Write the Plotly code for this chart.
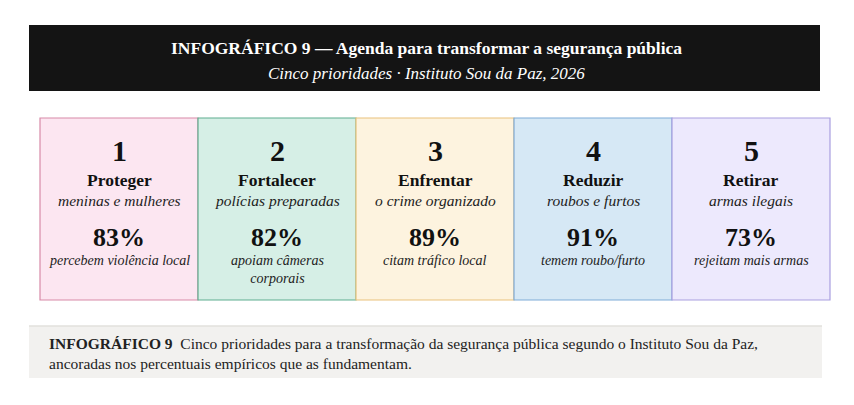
import plotly.graph_objects as go

# Data
ranks = ["1", "2", "3", "4", "5"]
verbs = ["Proteger", "Fortalecer", "Enfrentar", "Reduzir", "Retirar"]
objects = ["meninas e mulheres", "polícias preparadas", "o crime organizado",
           "roubos e furtos", "armas ilegais"]
percents = [83, 82, 89, 91, 73]
notes = ["percebem violência local", "apoiam câmeras<br>corporais",
         "citam tráfico local", "temem roubo/furto", "rejeitam mais armas"]

fills = ["#fce6f1", "#d6efe6", "#fdf3df", "#d6e8f5", "#ede9fd"]
borders = ["#d88aa8", "#5fae8f", "#e9c27c", "#7fabd8", "#a99fe0"]

title = "INFOGRÁFICO 9 — Agenda para transformar a segurança pública"
subtitle = "Cinco prioridades · Instituto Sou da Paz, 2026"
caption_head = "INFOGRÁFICO 9"
caption_body = ("Cinco prioridades para a transformação da segurança pública segundo o Instituto Sou da Paz,"
                "<br>ancoradas nos percentuais empíricos que as fundamentam.")

FONT = "Liberation Serif, Times New Roman, serif"
W, H = 854, 405
OFF = 8  # page body margin

fig = go.Figure()
shapes = []
ann = []

# Header banner
shapes.append(dict(type="rect", x0=29, x1=820, y0=25, y1=91,
                   fillcolor="#141414", line=dict(width=0), layer="below"))
ann.append(dict(x=426, y=48, text="<b>" + title + "</b>", showarrow=False,
                font=dict(family=FONT, size=17.5, color="white")))
ann.append(dict(x=426, y=73, text="<i>" + subtitle + "</i>", showarrow=False,
                font=dict(family=FONT, size=17, color="white")))

# Cards
x_left, card_w = 40, 158
top, bottom = 118, 300
for i in range(len(ranks)):
    x0 = x_left + i * card_w
    cx = x0 + card_w / 2
    shapes.append(dict(type="rect", x0=x0, x1=x0 + card_w, y0=top, y1=bottom,
                       fillcolor=fills[i], line=dict(color=borders[i], width=1.2),
                       layer="below"))
    ann.append(dict(x=cx, y=150, text="<b>" + ranks[i] + "</b>", showarrow=False,
                    font=dict(family=FONT, size=30, color="#111")))
    ann.append(dict(x=cx, y=180, text="<b>" + verbs[i] + "</b>", showarrow=False,
                    font=dict(family=FONT, size=17.5, color="#111")))
    ann.append(dict(x=cx, y=200, text="<i>" + objects[i] + "</i>", showarrow=False,
                    font=dict(family=FONT, size=15.5, color="#222")))
    ann.append(dict(x=cx, y=237, text="<b>%d%%</b>" % percents[i], showarrow=False,
                    font=dict(family=FONT, size=26, color="#111")))
    two = "<br>" in notes[i]
    ann.append(dict(x=cx, y=251 if two else 260, text="<i>" + notes[i] + "</i>",
                    showarrow=False, yanchor="top" if two else "middle",
                    font=dict(family=FONT, size=14, color="#222")))

# Caption box
shapes.append(dict(type="rect", x0=29, x1=822, y0=326, y1=378,
                   fillcolor="#f2f1ef", line=dict(width=0), layer="below"))
shapes.append(dict(type="line", x0=29, x1=822, y0=326, y1=326,
                   line=dict(color="#e2e0dc", width=1.5)))
ann.append(dict(x=47, y=353, xanchor="left", align="left", showarrow=False,
                text="<b>" + caption_head + "</b>  " + caption_body,
                font=dict(family=FONT, size=15.5, color="#222")))

fig.update_layout(
    width=W, height=H,
    margin=dict(l=0, r=0, t=0, b=0),
    paper_bgcolor="white", plot_bgcolor="white",
    xaxis=dict(range=[OFF, W + OFF], visible=False, fixedrange=True),
    yaxis=dict(range=[H + OFF, OFF], visible=False, fixedrange=True),
    shapes=shapes, annotations=ann, showlegend=False,
)

fig.write_html("out.html")
